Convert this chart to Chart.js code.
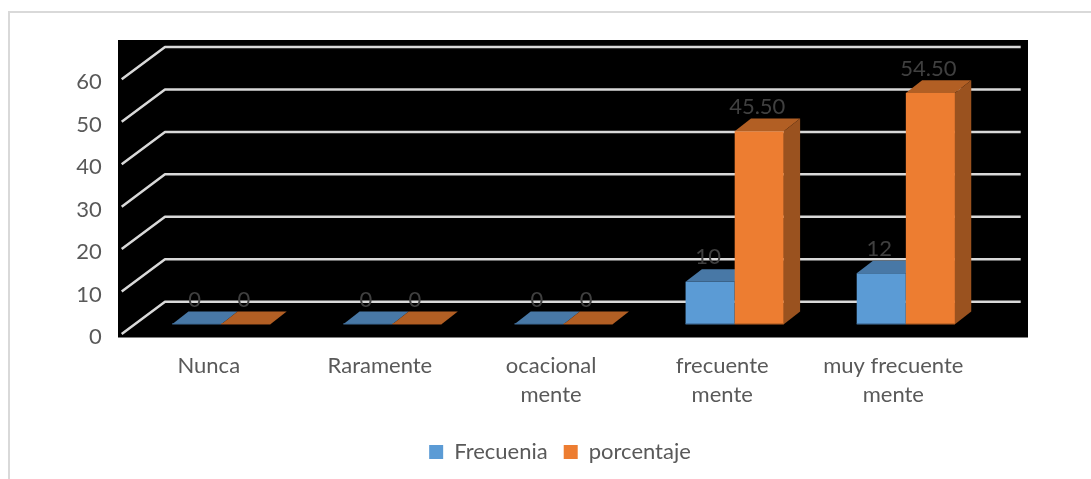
<!DOCTYPE html>
<html><head><meta charset="utf-8">
<style>html,body{margin:0;padding:0;background:#fff;overflow:hidden}canvas{display:block}</style>
<script src="https://cdn.jsdelivr.net/npm/chart.js@4"></script></head>
<body><canvas id="c" width="1091" height="479"></canvas>
<script>
const categories = ["Nunca","Raramente",["ocacional","mente"],["frecuente","mente"],["muy frecuente","mente"]];
const frecuencia = [0,0,0,10,12];
const porcentaje = [0,0,0,45.5,54.5];
const seriesNames = ["Frecuenia","porcentaje"];
const font = "Lato, Carlito, sans-serif";
const wall = {dx:43.3, dy:-32.3};
const barShift = {dx:14, dy:-9.7};
const barDepth = {dx:16.3, dy:-12.7};
const shades = [{top:"#4878A6",side:"#3F6D99",edge:"#3F6D99"},{top:"#B25F24",side:"#9A521F",edge:"#B25F24"}];
function poly(ctx,pts,fill){ctx.beginPath();pts.forEach((p,i)=>i?ctx.lineTo(p[0],p[1]):ctx.moveTo(p[0],p[1]));ctx.closePath();ctx.fillStyle=fill;ctx.fill();}
const scene = {
  id:"scene",
  beforeDraw(chart){
    const c=chart.ctx;
    c.save();
    c.fillStyle="#fff";c.fillRect(0,0,chart.width,chart.height);
    c.fillStyle="#D9D9D9";c.fillRect(8,11,1083,2);c.fillRect(8,11,2,468);
    c.fillStyle="#000";c.fillRect(118,40,910,297.5);
    c.restore();
  },
  beforeDatasetsDraw(chart){
    const c=chart.ctx,a=chart.chartArea,y=chart.scales.y;
    c.save();c.strokeStyle="#D9D9D9";c.lineWidth=2.5;c.lineJoin="round";
    y.ticks.forEach(t=>{const p=y.getPixelForValue(t.value);
      c.beginPath();c.moveTo(a.left,p);c.lineTo(a.left+wall.dx,p+wall.dy);c.lineTo(a.right+wall.dx,p+wall.dy);c.stroke();});
    c.restore();
  },
  beforeDatasetDraw(){return false;},
  afterDatasetsDraw(chart){
    const c=chart.ctx;
    chart.data.datasets.forEach((d,i)=>{
      const meta=chart.getDatasetMeta(i),s=shades[i];
      c.save();c.translate(barShift.dx,barShift.dy);
      meta.controller.draw();
      meta.data.forEach(b=>{
        const l=b.x-b.width/2,r=b.x+b.width/2,t=b.y,bt=b.base;
        poly(c,[[l,t],[r,t],[r+barDepth.dx,t+barDepth.dy],[l+barDepth.dx,t+barDepth.dy]],s.top);
        poly(c,[[r,t],[r,bt],[r+barDepth.dx,bt+barDepth.dy],[r+barDepth.dx,t+barDepth.dy]],s.side);
        c.fillStyle=s.edge;c.fillRect(l,bt-1,b.width,1);
      });
      c.restore();
    });
    c.save();c.font="22px "+font;c.fillStyle="#404040";c.textAlign="center";c.textBaseline="middle";
    chart.data.datasets.forEach((d,i)=>{
      chart.getDatasetMeta(i).data.forEach((b,j)=>{
        const v=d.data[j];
        const txt=(i===1&&v!==0)?v.toFixed(2):String(v);
        c.fillText(txt,b.x+barShift.dx-2,b.y+barShift.dy-24.5);
      });
    });
    c.restore();
  }
};
new Chart(document.getElementById("c"),{
  type:"bar",
  data:{labels:categories,datasets:[
    {label:seriesNames[0],data:frecuencia,backgroundColor:"#5B9BD5",clip:false,barPercentage:1,categoryPercentage:0.574},
    {label:seriesNames[1],data:porcentaje,backgroundColor:"#ED7D31",clip:false,barPercentage:1,categoryPercentage:0.574}
  ]},
  options:{
    responsive:false,animation:false,devicePixelRatio:1,
    layout:{padding:{left:29,right:0,top:79.3,bottom:6}},
    plugins:{tooltip:{enabled:false},title:{display:false},
      legend:{display:true,position:"bottom",labels:{boxWidth:14,boxHeight:14,padding:16,color:"#595959",font:{family:font,size:22}}}},
    scales:{
      x:{grid:{display:false,drawTicks:false},border:{display:false},
        ticks:{color:"#595959",font:{family:font,size:22,lineHeight:1.318},padding:17.5,labelOffset:1.5,maxRotation:0,minRotation:0,autoSkip:false},
        afterFit(s){s.height=91;}},
      y:{min:0,max:60,grid:{display:false,drawTicks:false},border:{display:false},
        ticks:{stepSize:10,color:"#595959",font:{family:font,size:22},padding:20,labelOffset:3},
        afterFit(s){s.width=92.7;}},
      y2:{position:"right",display:true,min:0,max:60,grid:{display:false,drawTicks:false},border:{display:false},
        ticks:{display:false},afterFit(s){s.width=113.6;}}
    }
  },
  plugins:[scene]
});
</script></body></html>
